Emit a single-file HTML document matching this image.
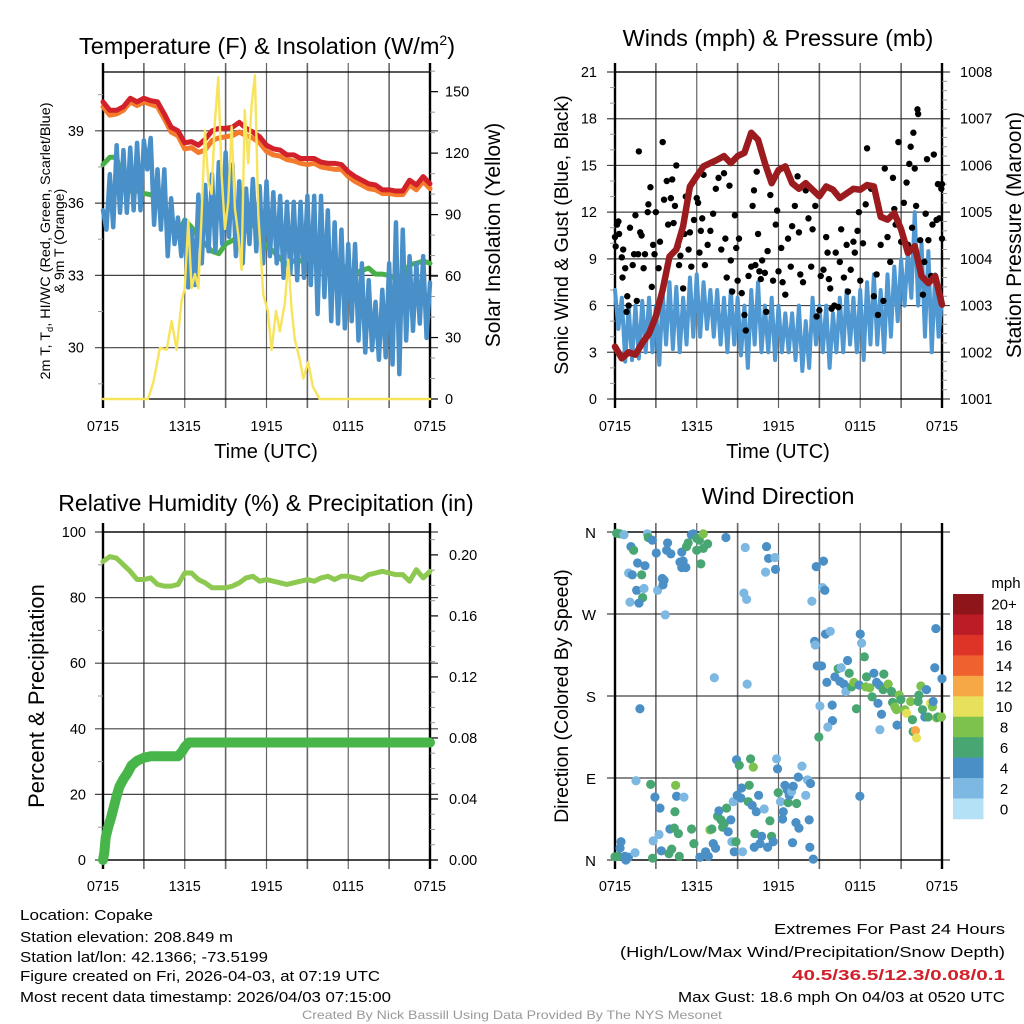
<!DOCTYPE html>
<html><head><meta charset="utf-8"><title>Copake Mesonet Meteogram</title>
<style>
html,body{margin:0;padding:0;background:#fff;}
svg{display:block;font-family:"Liberation Sans",Arial,sans-serif;}
</style></head>
<body>
<svg id="fig" xmlns="http://www.w3.org/2000/svg" width="1024" height="1024" viewBox="0 0 1024 1024">
<rect x="0" y="0" width="1024" height="1024" fill="#fff"/>
</svg>
<script>
// ---------- data ----------
const tHalf = [0,0.5,1,1.5,2,2.5,3,3.5,4,4.5,5,5.5,6,6.5,7,7.5,8,8.5,9,9.5,10,10.5,11,11.5,12,12.5,13,13.5,14,14.5,15,15.5,16,16.5,17,17.5,18,18.5,19,19.5,20,20.5,21,21.5,22,22.5,23,23.5,24];
const xTickLabels = ["0715","1315","1915","0115","0715"];
const tempRed = [40.2,39.85,39.85,40.0,40.35,40.2,40.35,40.25,40.2,39.7,39.15,39.0,38.5,38.55,38.4,38.65,39.0,39.1,39.1,39.15,39.35,39.1,38.95,38.75,38.4,38.25,38.2,38.0,38.0,37.85,37.85,37.85,37.7,37.65,37.65,37.6,37.3,37.1,36.95,36.8,36.75,36.55,36.55,36.5,36.5,36.95,36.75,37.1,36.8];
const tempOrange = [40.0,39.65,39.7,39.85,40.2,40.05,40.2,40.1,40.0,39.5,38.95,38.8,38.25,38.3,38.1,38.2,38.6,38.7,38.75,38.8,38.95,38.8,38.7,38.5,38.15,38.0,37.95,37.8,37.75,37.65,37.6,37.65,37.5,37.45,37.4,37.4,37.1,36.9,36.75,36.6,36.55,36.4,36.4,36.35,36.35,36.75,36.55,36.9,36.6];
const dewGreen = [37.6,37.9,37.9,36.6,36.5,36.5,36.4,36.35,36.2,35.7,35.0,34.7,35.3,35.0,34.6,34.3,34.0,33.9,34.3,34.45,34.6,34.9,35.2,34.6,34.2,34.0,33.7,33.45,33.6,33.6,33.7,33.9,33.7,34.0,33.7,33.45,33.2,33.1,33.2,33.3,33.05,33.05,33.0,32.85,32.9,33.45,33.5,33.6,33.5];
const chillHi = [35.7,37.2,38.4,38.2,38.3,38.5,38.6,38.7,37.4,37.4,36.2,35.4,35.3,34.9,36.35,36.75,37.2,37.7,38.1,37.6,36.9,36.6,37.0,36.7,36.9,36.45,36.3,36.05,36.05,36.05,36.3,36.3,36.3,35.7,35.2,34.9,34.3,34.3,33.5,32.8,31.9,32.4,33.5,35.2,34.9,33.8,33.5,33.8,32.7];
const chillLo = [34.9,35.0,35.6,35.6,35.7,35.7,37.4,35.1,34.9,33.8,34.3,33.8,32.5,32.6,33.5,34.0,34.0,34.3,34.6,33.8,33.5,34.3,34.0,33.5,33.8,33.5,32.9,33.05,32.8,32.9,32.6,31.4,32.1,31.1,31.0,30.8,31.1,30.3,29.8,29.9,29.5,29.6,29.3,28.9,30.3,30.7,31.0,30.4,30.4];
const solarT = [0,3.3,3.69,4.18,4.67,5.04,5.4,5.77,6.0,6.26,6.5,6.75,7.0,7.24,7.48,7.73,7.97,8.2,8.46,8.7,8.95,9.19,9.44,9.68,9.93,10.17,10.4,10.66,10.9,11.15,11.4,11.76,12.1,12.37,12.7,12.98,13.35,13.6,13.84,14.08,14.45,14.7,15.06,15.4,15.9,24];
const solarV = [0,0,8,25,24,38,24,48,54,87,54,61,54,90,131,106,100,134,157,110,83,96,133,93,80,63,141,115,143,158,90,51,43,24,43,33,47,68,44,29,19,10,18,6,0,0];
const pressure = [1002.12,1001.87,1002.0,1001.95,1002.2,1002.4,1002.77,1003.34,1004.05,1004.2,1004.7,1005.55,1005.77,1005.98,1006.05,1006.12,1006.2,1006.05,1006.2,1006.27,1006.7,1006.55,1006.05,1005.62,1005.9,1005.98,1005.62,1005.5,1005.62,1005.48,1005.34,1005.55,1005.48,1005.3,1005.4,1005.5,1005.48,1005.58,1005.55,1004.9,1004.84,1004.98,1004.63,1004.13,1004.27,1003.63,1003.48,1003.63,1003.02];
const windHi = [7.0,6.5,6.0,6.0,6.3,6.5,6.0,6.8,7.5,7.2,6.5,7.8,8.0,7.5,7.0,7.0,6.5,7.0,6.5,6.0,7.0,7.5,6.0,6.5,6.0,5.5,5.5,6.0,5.0,6.5,6.0,6.0,5.5,6.5,7.0,6.5,7.0,7.5,8.0,7.0,8.0,8.5,9.0,9.5,12.0,10.0,9.5,8.0,6.5];
const windLo = [4.5,2.4,2.5,2.6,3.0,3.0,2.2,3.5,3.2,3.0,3.5,4.0,4.0,4.5,4.0,3.5,3.0,3.5,2.8,2.0,3.5,3.0,3.0,2.5,3.0,3.0,2.5,1.8,2.0,3.5,3.0,2.0,3.0,3.0,3.5,3.0,2.5,3.5,3.5,3.0,4.0,5.0,6.0,6.5,6.0,4.0,3.0,4.0,5.0];
const gustT = [0.0,0.05,0.15,0.25,0.3,0.5,0.55,0.6,0.75,0.85,0.9,1.0,1.1,1.3,1.4,1.5,1.6,1.7,1.75,1.85,1.95,2.1,2.2,2.4,2.45,2.6,2.7,2.8,2.9,3.0,3.2,3.3,3.5,3.6,3.8,3.9,4.1,4.2,4.3,4.4,4.5,4.6,4.7,4.8,5.0,5.1,5.2,5.4,5.5,5.6,5.8,6.0,6.1,6.2,6.3,6.4,6.5,6.6,6.8,7.0,7.2,7.4,7.6,7.8,8.0,8.1,8.2,8.4,8.5,8.6,8.8,8.9,9.0,9.1,9.3,9.5,9.6,9.8,10.0,10.1,10.2,10.3,10.4,10.5,10.6,10.7,10.8,11.0,11.1,11.2,11.4,11.6,11.8,11.9,12.0,12.2,12.3,12.5,12.7,12.9,13.0,13.2,13.4,13.5,13.6,13.8,14.0,14.2,14.4,14.5,14.7,14.8,15.0,15.1,15.3,15.5,15.6,15.7,15.8,15.9,16.1,16.2,16.4,16.5,16.6,16.8,17.0,17.1,17.3,17.5,17.6,17.8,17.9,18.0,18.2,18.4,18.5,18.6,18.8,19.0,19.2,19.3,19.5,19.7,19.8,20.0,20.2,20.4,20.5,20.6,20.8,21.0,21.2,21.4,21.5,21.6,21.7,21.8,21.9,22.0,22.1,22.2,22.25,22.4,22.6,22.7,22.8,22.9,23.0,23.2,23.3,23.4,23.6,23.7,23.8,23.95,24.0,24.0];
const gustV = [10.4,9.8,11.2,11.4,10.6,9.1,7.8,9.6,8.4,5.6,6.6,6.0,11.0,8.6,9.3,11.8,6.3,9.3,15.9,10.7,10.5,8.4,9.3,12.0,12.5,13.6,7.2,9.9,9.3,12.0,8.4,10.1,16.5,12.8,14.0,11.2,12.9,14.1,11.3,12.4,15.0,9.8,8.6,9.2,7.1,10.6,13.0,9.6,10.7,8.5,11.5,12.9,12.6,9.4,10.8,11.6,14.4,8.6,9.9,10.8,11.9,13.5,14.2,9.6,14.5,10.3,7.8,13.7,8.9,6.9,11.8,9.7,7.6,10.3,6.8,5.4,4.4,7.9,8.5,12.4,13.4,8.6,14.6,10.6,8.2,7.7,8.9,8.1,5.6,9.5,13.1,7.6,11.2,12.1,8.2,9.7,7.5,6.7,10.3,8.5,11.1,12.4,14.3,10.7,8.0,7.5,13.4,11.6,8.5,10.9,12.4,5.3,5.7,7.9,8.3,10.4,9.4,7.7,7.1,5.8,6.0,9.4,5.9,8.8,10.9,7.8,9.9,6.9,8.3,10.1,9.4,10.8,12.0,7.6,10.0,12.5,16.1,13.7,13.5,6.6,8.0,5.4,9.9,6.3,14.8,10.4,8.8,14.2,12.2,11.2,16.5,10.1,12.6,13.9,9.9,15.1,16.2,11.0,17.1,14.8,12.4,18.6,18.3,10.2,6.7,8.8,11.9,15.4,10.2,7.9,11.2,15.7,11.5,13.8,11.6,13.5,13.8,10.3];
const rh = [91,92.5,92,90,88,85.5,85.5,86,84,83.5,83.5,84,87.5,87.5,85.5,84.5,83,83,83,83.5,84.5,86,86.5,85,85.5,85,84.5,84,84.5,85,85.5,85,86,86.5,85.5,86.5,86.5,86,85.5,87,87.5,88,87.5,87,87,85,88.5,86,88];
const precipT = [0,0.1,0.2,0.4,0.6,0.8,1.0,1.2,1.5,1.8,2.1,2.5,3.0,3.5,4.0,5.5,5.8,6.0,6.3,24];
const precipV = [0,0.005,0.015,0.022,0.028,0.035,0.042,0.048,0.053,0.057,0.062,0.065,0.067,0.068,0.068,0.068,0.071,0.074,0.077,0.077];
const dirT = [0.12,0.37,0.66,1.17,1.37,1.66,2.2,1.0,1.27,1.96,1.59,2.13,2.03,1.1,1.76,2.37,2.44,2.74,3.03,3.13,3.47,3.6,3.52,3.69,3.86,3.79,4.1,4.77,5.0,4.9,5.2,4.9,5.25,5.37,5.6,5.75,6.0,6.19,6.48,6.48,6.8,6.0,6.3,8.14,9.56,11.12,11.27,11.74,11.78,11.05,9.46,9.66,14.77,15.3,15.23,15.4,14.45,1.83,7.29,9.7,
15.45,15.8,14.65,14.7,14.84,15.16,15.55,15.04,15.94,15.96,15.62,14.96,16.14,16.38,16.5,16.6,16.8,16.94,17.07,17.19,17.36,17.53,17.72,17.92,18.0,18.1,18.3,18.4,18.46,18.7,18.87,19.0,19.2,19.3,19.56,19.44,19.39,19.73,19.68,20.05,20.3,20.37,20.54,20.66,20.7,20.86,20.98,21.27,21.4,21.7,21.83,21.88,22.05,22.13,22.25,22.3,22.45,22.57,22.74,22.86,22.98,23.15,23.3,23.35,23.47,23.6,23.71,23.55,23.96,24.0,17.97,
0,0.24,0.44,0.37,0.73,0.8,0.98,1.47,1.54,2.62,2.76,2.8,2.93,3.23,3.3,3.4,3.96,4.03,4.16,4.35,4.4,4.45,4.52,4.65,4.72,5.06,5.62,5.79,6.23,6.65,6.85,6.97,7.11,7.21,7.38,7.53,7.63,7.78,7.9,8.02,8.19,8.31,8.5,8.58,8.75,8.88,8.68,8.92,9.12,8.97,9.24,9.29,9.36,9.78,9.85,9.95,10.15,10.07,10.37,10.27,10.22,10.54,10.64,10.76,10.95,11.2,11.37,11.49,11.61,11.86,11.93,11.98,12.15,12.35,12.3,12.47,12.64,12.71,12.79,12.96,13.08,13.33,13.28,13.5,13.45,13.72,14.0,14.13,14.35,14.25,14.3,14.55,13.03];
const dirD = [358.6,358,357,344,340,326,323,315,313,313,296,298,288,283,282,358,354,351,337,296,309,307,302,269,348,340,336,327,328,321,321,338,344,348,357,358,353,351,358,342,347,340,325,354,343,344,331,332,319,316,293,286,322,328,299,296,284,166,200,193,
248,251,240,236,213,213,195,169,170,153,146,135,201,210,196,211,193,185,219,205,190,195,166,192,248,238,223,190,201,189,179,205,195,172,160,143,192,204,187,193,185,173,168,165,148,181,176,165,161,174,154,141,142,134,174,181,191,165,157,187,157,172,168,174,211,156,157,254,157,199,70,
3.6,4,20,13,4,0,3,8,87,83,2,21,69,28,57,10,7,34,12,35,53,82,70,29,4,69,34,18,3,9,4,33,34,18,13,48,54,44,36,40,57,31,44,20,9,20,64,110,104,71,68,79,9,64,82,111,102,60,53,29,14,71,18,26,56,14,43,26,20,111,100,74,64,53,45,82,77,63,71,75,81,62,41,35,91,103,71,88,84,44,14,1,19];
const dirS = [7,7,3,5,7,5,5,3,5,7,5,3,7,3,5,3,7,5,5,3,5,5,5,3,5,5,5,5,5,5,5,5,7,7,5,5,7,7,9,7,7,7,7,5,3,5,5,3,5,3,3,3,5,5,3,5,3,5,3,3,
5,3,5,3,5,5,5,3,5,5,3,7,5,7,5,3,5,3,5,7,7,9,7,5,5,3,7,9,7,9,7,5,5,5,5,3,5,7,7,9,7,7,9,9,5,9,7,9,11,9,7,7,13,11,7,7,9,7,5,5,7,11,9,5,5,9,7,5,9,5,5,
7,7,5,5,5,5,5,3,3,7,7,3,5,3,5,5,7,5,7,7,7,9,5,7,7,3,7,7,5,5,5,9,7,5,5,7,5,7,7,7,7,5,5,3,5,7,3,5,7,5,5,5,3,7,7,7,9,5,5,7,5,5,5,5,3,5,7,7,5,3,5,7,3,5,5,5,5,7,5,3,5,7,5,5,5,3,3,3,5];
const cbLabels = ["20+","18","16","14","12","10","8","6","4","2","0"];
const cbColors = ["#8e151a","#bb1c25","#de3428","#ef6230","#f7a846","#e7e05a","#7cc24c","#47a671","#4a8fc6","#7db8e2","#b4e1f6"];

// ---------- helpers ----------
const NS = "http://www.w3.org/2000/svg";
const svg = document.getElementById("fig");
function el(tag, parent){ const e=document.createElementNS(NS,tag); (parent||svg).appendChild(e); return e; }
function setA(e, o){ for(const k in o) e.setAttribute(k,o[k]); return e; }
function lin(d0,d1,r0,r1){ return v => r0 + (v-d0)*(r1-r0)/(d1-d0); }
function txt(parent, x, y, s, size, anchor, extra){
  const t = el("text", parent);
  setA(t,{x:x,y:y,"font-size":size,"text-anchor":anchor||"middle",fill:"#000"});
  if(extra) setA(t, extra);
  t.textContent = s; return t;
}
function pathFrom(xs, ys){ let d=""; for(let i=0;i<xs.length;i++){ d += (i?"L":"M")+xs[i].toFixed(2)+","+ys[i].toFixed(2);} return d; }

function frame(g, P, hLines, xLabelY){
  for(let h=0; h<=24; h+=3){
    const x = P.sx(h);
    const ln = el("line", g);
    setA(ln,{x1:x,x2:x,y1:P.y0-9,y2:P.y1+9,stroke:"#333","stroke-width":(h%6===0?1.2:1.6),"stroke-opacity":0.75});
    
    
  }
  hLines.forEach(y=>{
    const ln = el("line", g);
    setA(ln,{x1:P.x0-8,x2:P.x1+8,y1:y,y2:y,stroke:"#222","stroke-width":1.2,"stroke-opacity":0.85});
    
    
  });
  const b = el("rect", g);
  setA(b,{x:P.x0,y:P.y0,width:P.x1-P.x0,height:P.y1-P.y0,fill:"none",stroke:"#000","stroke-width":1.3});
  
  
  const lsp = el("line", g);
  setA(lsp,{x1:P.x0,x2:P.x0,y1:P.y0-9,y2:P.y1+9,stroke:"#000","stroke-width":2.4});
  
  
  const rsp = el("line", g);
  setA(rsp,{x1:P.x1,x2:P.x1,y1:P.y0-9,y2:P.y1+9,stroke:"#000","stroke-width":2.4});
  
  
  xTickLabels.forEach((s,i)=>{
    const t = txt(g, P.sx(i*6), xLabelY, s, 14.5);
    
    
  });
}
function minorTicks(g, x, ys, dir){
  ys.forEach(y=>{
    const ln = el("line", g);
    setA(ln,{x1:x,x2:x+dir*5,y1:y,y2:y,stroke:"#999","stroke-width":1});
    
    
  });
}
function line(g, xs, ys, color, w, name){
  const p = el("path", g);
  setA(p,{d:pathFrom(xs,ys),fill:"none",stroke:color,"stroke-width":w,"stroke-linejoin":"round","stroke-linecap":"round"});
  
  
  return p;
}
function zig(times, hi, lo){
  const t=[], v=[];
  for(let i=0;i<times.length;i++){
    const nx = i<times.length-1 ? times[i+1]-times[i] : 0;
    t.push(times[i]); v.push(hi[i]);
    if(nx>0){ t.push(times[i]+nx*0.5); v.push(lo[i]); }
  }
  return [t,v];
}

// ---------- Panel 1: Temperature ----------
{
  const g = el("g");  
  const P = {x0:103,x1:430,y0:72,y1:399};
  P.sx = lin(0,24,P.x0,P.x1);
  const sy = lin(27.87,41.44,P.y1,P.y0);
  const sr = lin(0,159.6,P.y1,P.y0);
  frame(g, P, [30,33,36,39].map(sy), 431);
  minorTicks(g, P.x0, [28.5,31.5,34.5,37.5,40.5].map(sy), -1);
  minorTicks(g, P.x1, [10,20,40,50,70,80,100,110,130,140,160].map(sr), 1);
  [0,30,60,90,120,150].forEach(v=>{
    const tk=el("line",g); setA(tk,{x1:P.x1,x2:P.x1+8,y1:sr(v),y2:sr(v),stroke:"#000","stroke-width":1.2});
     
    const t = txt(g, 445, sr(v)+5, String(v), 14.5, "start");
     
  });
  [30,33,36,39].forEach(v=>{
    const t = txt(g, 84, sy(v)+5, String(v), 14.5, "end");
     
  });
  const [zt,zv] = zig(tHalf, chillHi, chillLo);
  line(g, tHalf.map(P.sx), dewGreen.map(sy), "#48b048", 5, "dewpoint-line");
  line(g, zt.map(P.sx), zv.map(sy), "#4a90c8", 4.5, "windchill-line");
  line(g, tHalf.map(P.sx), tempOrange.map(sy), "#f47b2c", 5, "temp-9m-line");
  line(g, tHalf.map(P.sx), tempRed.map(sy), "#d2212a", 5, "temp-2m-line");
  line(g, solarT.map(P.sx), solarV.map(sr), "#f8e35c", 2.4, "solar-line");
  const tt = txt(g, 267, 54, "Temperature (F) & Insolation (W/m", 23.5);
  const sup = el("tspan", tt); setA(sup,{"font-size":14,dy:-9}); sup.textContent="2";
  const cl = el("tspan", tt); setA(cl,{dy:9}); cl.textContent=")";
   
  const xl = txt(g, 266, 458, "Time (UTC)", 20);
   
  const yl = txt(g, 0, 0, "2m T, T", 14, "middle", {transform:"translate(50,241) rotate(-90)", textLength:277, lengthAdjust:"spacingAndGlyphs"});
  const sub = el("tspan", yl); setA(sub,{"font-size":9,dy:3}); sub.textContent="d";
  const rest = el("tspan", yl); setA(rest,{dy:-3}); rest.textContent=", HI/WC (Red, Green, Scarlet/Blue)";
   
  const yl2 = txt(g, 0, 0, "& 9m T (Orange)", 14, "middle", {transform:"translate(64,241) rotate(-90)"});
   
  const yr = txt(g, 0, 0, "Solar Insolation (Yellow)", 21, "middle", {transform:"translate(500,235) rotate(-90)"});
   
}

// ---------- Panel 2: Winds ----------
{
  const g = el("g");  
  const P = {x0:615,x1:942,y0:72,y1:399};
  P.sx = lin(0,24,P.x0,P.x1);
  const sy = lin(0,21,P.y1,P.y0);
  const sp = lin(1001,1008,P.y1,P.y0);
  frame(g, P, [0,3,6,9,12,15,18,21].map(sy), 431);
  const mins=[]; for(let v=1001.2; v<1008; v+=0.2){ if(Math.abs(v-Math.round(v))>0.05) mins.push(sp(v)); }
  minorTicks(g, P.x1, mins, 1);
  minorTicks(g, P.x0, [1,2,4,5,7,8,10,11,13,14,16,17,19,20].map(sy), -1);
  [0,3,6,9,12,15,18,21].forEach(v=>{
    const t = txt(g, 597, sy(v)+5, String(v), 14.5, "end");
     
  });
  [1001,1002,1003,1004,1005,1006,1007,1008].forEach(v=>{
    const t = txt(g, 960, sp(v)+5, String(v), 14.5, "start");
     
  });
  const [zt,zv] = zig(tHalf, windHi, windLo);
  line(g, zt.map(P.sx), zv.map(sy), "#4f98d2", 4, "sonic-wind-line");
  gustT.forEach((t,i)=>{
    const c = el("circle", g);
    setA(c,{cx:P.sx(t),cy:sy(gustV[i]),r:3.2,fill:"#000"});
    
    
  });
  line(g, tHalf.map(P.sx), pressure.map(sp), "#9b1b1f", 6.5, "pressure-line");
  const tt = txt(g, 778, 46, "Winds (mph) & Pressure (mb)", 23.5);
   
  const xl = txt(g, 778, 458, "Time (UTC)", 20);
   
  const yl = txt(g, 0, 0, "Sonic Wind & Gust (Blue, Black)", 19.5, "middle", {transform:"translate(568,235) rotate(-90)"});
   
  const yr = txt(g, 0, 0, "Station Pressure (Maroon)", 21, "middle", {transform:"translate(1021,235) rotate(-90)"});
   
}

// ---------- Panel 3: RH & Precip ----------
{
  const g = el("g");  
  const P = {x0:103,x1:430,y0:532,y1:860};
  P.sx = lin(0,24,P.x0,P.x1);
  const sy = lin(0,100,P.y1,P.y0);
  const sr = lin(0,0.215,P.y1,P.y0);
  frame(g, P, [0,20,40,60,80,100].map(sy), 891);
  minorTicks(g, P.x0, [10,30,50,70,90].map(sy), -1);
  const rm=[]; for(let v=0.01; v<0.215; v+=0.01){ if(Math.round(v*100)%4!==0) rm.push(sr(v)); }
  minorTicks(g, P.x1, rm, 1);
  [0,0.04,0.08,0.12,0.16,0.20].forEach(v=>{
    const tk=el("line",g); setA(tk,{x1:P.x1,x2:P.x1+8,y1:sr(v),y2:sr(v),stroke:"#000","stroke-width":1.2});
     
    const t = txt(g, 449, sr(v)+5, v.toFixed(2), 14.5, "start");
     
  });
  [0,20,40,60,80,100].forEach(v=>{
    const t = txt(g, 86, sy(v)+5, String(v), 14.5, "end");
     
  });
  line(g, tHalf.map(P.sx), rh.map(sy), "#8dc850", 5, "rh-line");
  line(g, precipT.map(P.sx), precipV.map(sr), "#48b54a", 10, "precip-line");
  const tt = txt(g, 266, 511, "Relative Humidity (%) & Precipitation (in)", 23);
   
  const yl = txt(g, 0, 0, "Percent & Precipitation", 22, "middle", {transform:"translate(44,696) rotate(-90)"});
   
}

// ---------- Panel 4: Wind direction ----------
{
  const g = el("g");  
  const P = {x0:615,x1:942,y0:532,y1:860};
  P.sx = lin(0,24,P.x0,P.x1);
  const sy = lin(0,360,P.y1,P.y0);
  frame(g, P, [0,90,180,270,360].map(sy), 891);
  const dirLabels = ["N","E","S","W","N"];
  [0,90,180,270,360].forEach((v,i)=>{
    const t = txt(g, 596, sy(v)+6, dirLabels[i], 15, "end");
     
  });
  function colorFor(s){ if(s===undefined||isNaN(s)) s=5; let idx = Math.max(0,Math.min(10, Math.floor(s/2))); return cbColors[10-idx]; }
  dirT.forEach((t,i)=>{
    if(dirD[i]===undefined) return;
    const c = el("circle", g);
    setA(c,{cx:P.sx(t),cy:sy(dirD[i]),r:4.6,fill:colorFor(dirS[i])});
    
    
  });
  const tt = txt(g, 778, 504, "Wind Direction", 23.5);
   
  const yl = txt(g, 0, 0, "Direction (Colored By Speed)", 19.5, "middle", {transform:"translate(568,696) rotate(-90)"});
   
  const cb = el("g");  
  const bh = (819-594)/cbColors.length;
  cbColors.forEach((c,i)=>{
    const r = el("rect", cb);
    setA(r,{x:953,y:594+i*bh,width:30.5,height:bh+0.3,fill:c});
    
    
    const t = txt(cb, 1004, 594+i*bh+bh/2+5.5, cbLabels[i], 15);
    
    
  });
  const m = txt(cb, 1006, 588, "mph", 15);
   
}

// ---------- footer ----------
{
  const g = el("g");  
  const left = [["Location: Copake",920,133],["Station elevation: 208.849 m",942,213],["Station lat/lon: 42.1366; -73.5199",962,248],["Figure created on Fri, 2026-04-03, at 07:19 UTC",981,360],["Most recent data timestamp: 2026/04/03 07:15:00",1002,371]];
  left.forEach(r=>{
    const t = txt(g, 20, r[1], r[0], 15, "start", {textLength:r[2], lengthAdjust:"spacingAndGlyphs"});
     
  });
  const right = [["Extremes For Past 24 Hours",934,231,"#000","normal"],["(High/Low/Max Wind/Precipitation/Snow Depth)",957,385,"#000","normal"],["40.5/36.5/12.3/0.08/0.1",980,213,"#d0202a","bold"],["Max Gust: 18.6 mph On 04/03 at 0520 UTC",1002,327,"#000","normal"]];
  right.forEach(r=>{
    const t = txt(g, 1005, r[1], r[0], 15, "end", {textLength:r[2], lengthAdjust:"spacingAndGlyphs", fill:r[3], "font-weight":r[4]});
     
  });
  const c = txt(g, 512, 1019, "Created By Nick Bassill Using Data Provided By The NYS Mesonet", 12, "middle", {fill:"#999", textLength:420, lengthAdjust:"spacingAndGlyphs"});
   
}
</script>
</body></html>
